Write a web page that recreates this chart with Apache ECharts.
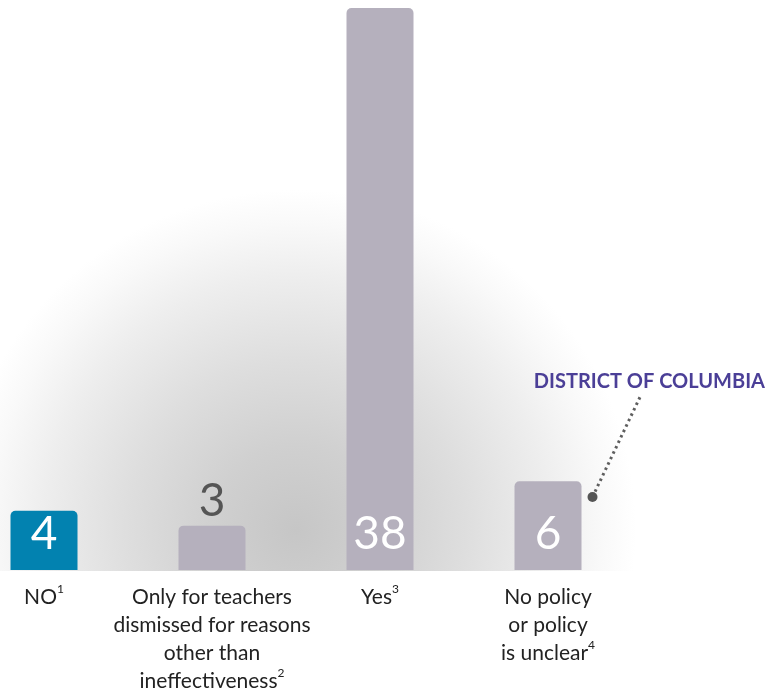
<!DOCTYPE html>
<html>
<head>
<meta charset="utf-8">
<script src="https://cdn.jsdelivr.net/npm/echarts@6/dist/echarts.min.js"></script>
<style>
  html, body { margin: 0; padding: 0; background: #ffffff; }
  #chart { width: 768px; height: 696px; }
</style>
</head>
<body>
<div id="chart"></div>
<script>
// Category labels (line breaks as printed) and their footnote markers
const categories = [
  'NO',
  'Only for teachers\ndismissed for reasons\nother than\nineffectiveness',
  'Yes',
  'No policy\nor policy\nis unclear'
];
const footnotes = ['1', '2', '3', '4'];

// Number of states in each group
const counts = [4, 3, 38, 6];

// Bar fills: the "NO" group is highlighted
const barColors = ['#0282b0', '#b5b0bd', '#b5b0bd', '#b5b0bd'];

// Callout text for the last bar
const calloutText = 'DISTRICT OF COLUMBIA';
const calloutIndex = 3;

const chart = echarts.init(document.getElementById('chart'), null, { renderer: 'canvas' });

const labelFont = 'Lato, "Open Sans", sans-serif';

chart.setOption({
  animation: false,
  backgroundColor: '#ffffff',
  // categories sit on the tick positions (no boundary gap)
  grid: { left: 44, right: 220, top: 8, bottom: 126, containLabel: false },
  xAxis: {
    type: 'category',
    data: categories,
    boundaryGap: false,
    axisLine: { show: false },
    axisTick: { show: false },
    axisLabel: {
      interval: 0,
      margin: 13,
      color: '#222222',
      fontFamily: labelFont,
      fontSize: 21,
      lineHeight: 28,
      align: 'center',
      formatter: function (value, idx) {
        return value + '{s|' + footnotes[idx] + '}';
      },
      rich: {
        s: { fontSize: 12, lineHeight: 22, verticalAlign: 'top', color: '#222222', fontFamily: labelFont }
      }
    }
  },
  yAxis: {
    type: 'value',
    min: 0,
    max: 38,
    show: false,
    splitLine: { show: false }
  },
  series: [{
    type: 'bar',
    barWidth: 67,
    z: 3,
    data: counts.map(function (v, i) {
      const small = v <= 3;
      return {
        value: v,
        itemStyle: { color: barColors[i], borderRadius: [5, 5, 0, 0] },
        label: small
          ? { position: 'top', distance: 1, color: '#555555' }
          : { position: 'insideBottom', distance: 13, color: '#ffffff' }
      };
    }),
    label: {
      show: true,
      fontFamily: labelFont,
      fontSize: 46,
      fontWeight: 'normal'
    }
  }]
});

// Soft grey haze behind the bars and the dotted callout, placed from axis coordinates
function layoutDecor() {
  const base = chart.convertToPixel({ seriesIndex: 0 }, [0, 0]);
  const c1 = chart.convertToPixel({ seriesIndex: 0 }, [1, 3]);
  const c2 = chart.convertToPixel({ seriesIndex: 0 }, [2, 3]);
  const cx = (c1[0] + c2[0]) / 2;
  const cy = c1[1] + 4;
  const baseY = base[1];

  const dcBar = chart.convertToPixel({ seriesIndex: 0 }, [calloutIndex, counts[calloutIndex] - 1]);
  const dotX = dcBar[0] + 33.5 + 11;
  const dotY = dcBar[1] + 1;
  const endX = dotX + 48;
  const endY = dotY - 101;

  chart.setOption({
    graphic: [
      {
        type: 'rect',
        z: 0,
        silent: true,
        shape: { x: 0, y: 0, width: 768, height: baseY + 1 },
        style: {
          fill: {
            type: 'radial',
            x: cx, y: cy, r: 340,
            global: true,
            colorStops: [
              { offset: 0, color: '#c6c6c6' },
              { offset: 0.25, color: '#d0d0d0' },
              { offset: 0.5, color: '#dedede' },
              { offset: 0.75, color: '#eeeeee' },
              { offset: 0.9, color: '#f9f9f9' },
              { offset: 1, color: '#ffffff' }
            ]
          }
        }
      },
      {
        type: 'line',
        z: 5,
        silent: true,
        shape: { x1: dotX, y1: dotY, x2: endX, y2: endY },
        style: { stroke: '#5f5f5f', lineWidth: 3, lineDash: [2.5, 3.5] }
      },
      {
        type: 'circle',
        z: 5,
        silent: true,
        shape: { cx: dotX, cy: dotY, r: 5 },
        style: { fill: '#555555' }
      },
      {
        type: 'text',
        z: 5,
        silent: true,
        x: 765,
        y: endY - 15,
        style: {
          text: calloutText,
          fill: '#4b3f97',
          font: 'bold 20px ' + labelFont,
          textAlign: 'right',
          textVerticalAlign: 'middle'
        }
      }
    ]
  });
}
layoutDecor();
</script>
</body>
</html>
